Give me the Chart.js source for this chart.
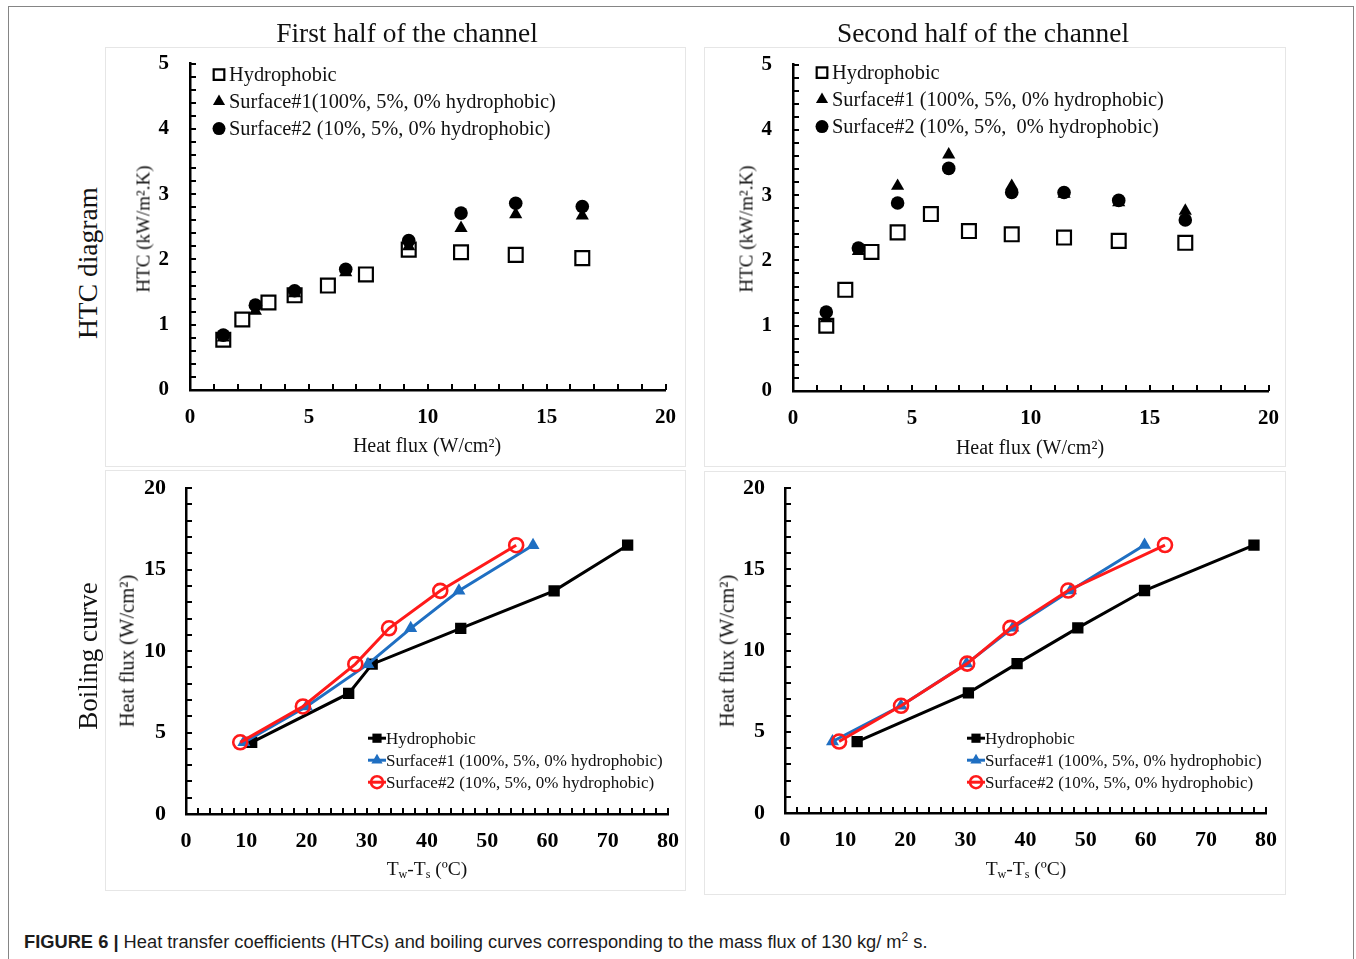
<!DOCTYPE html>
<html>
<head>
<meta charset="utf-8">
<script src="https://cdn.jsdelivr.net/npm/chart.js"></script>
<style>
  body{margin:0;background:#fff;width:1356px;height:959px;position:relative;overflow:hidden;font-family:"Liberation Serif","Times New Roman",serif;}
  .frame{position:absolute;left:8px;top:6px;width:1344px;height:1000px;border:1.5px solid #858585;border-bottom:none;}
  .panel{position:absolute;border:1.5px solid #e6e6e6;box-sizing:border-box;}
  canvas{position:absolute;}
  .lbl{position:absolute;white-space:nowrap;line-height:1;color:#111;}
  .ctr{transform:translate(-50%,-50%);}
  .rot{transform:translate(-50%,-50%) rotate(-90deg);}
  sub{font-size:0.62em;vertical-align:-0.25em;line-height:0;}
  .cap{position:absolute;left:24px;top:932px;font-family:"Liberation Sans",Arial,sans-serif;font-size:18.3px;color:#1c1c1c;white-space:nowrap;line-height:20px;}
  .cap sup{font-size:0.65em;vertical-align:0.55em;line-height:0;}
</style>
</head>
<body>
<div class="frame"></div>

<div class="panel" style="left:105px;top:47px;width:581px;height:420px;"></div>
<div class="panel" style="left:704px;top:47px;width:582px;height:420px;"></div>
<div class="panel" style="left:105px;top:470px;width:581px;height:421px;"></div>
<div class="panel" style="left:704px;top:471px;width:582px;height:424px;"></div>

<canvas id="c1" width="581" height="440"></canvas>
<canvas id="c2" width="582" height="440"></canvas>
<canvas id="c3" width="581" height="440"></canvas>
<canvas id="c4" width="582" height="440"></canvas>

<div class="lbl ctr" style="left:407px;top:34px;font-size:27.4px;">First half of the channel</div>
<div class="lbl ctr" style="left:983px;top:34px;font-size:27.4px;">Second half of the channel</div>

<div class="lbl rot" style="left:88px;top:263px;font-size:27.5px;">HTC diagram</div>
<div class="lbl rot" style="left:88px;top:656px;font-size:27px;">Boiling curve</div>

<div class="lbl ctr" style="left:427px;top:445px;font-size:20px;">Heat flux (W/cm²)</div>
<div class="lbl ctr" style="left:1030px;top:447px;font-size:20px;">Heat flux (W/cm²)</div>
<div class="lbl rot" style="left:143px;top:229px;font-size:19px;">HTC (kW/m².K)</div>
<div class="lbl rot" style="left:746px;top:229px;font-size:19px;">HTC (kW/m².K)</div>

<div class="lbl ctr" style="left:427px;top:869px;font-size:19.5px;">T<sub>w</sub>-T<sub>s</sub> (ºC)</div>
<div class="lbl ctr" style="left:1026px;top:869px;font-size:19.5px;">T<sub>w</sub>-T<sub>s</sub> (ºC)</div>
<div class="lbl rot" style="left:127px;top:651px;font-size:20.6px;">Heat flux (W/cm²)</div>
<div class="lbl rot" style="left:727px;top:651px;font-size:20.6px;">Heat flux (W/cm²)</div>

<div class="cap"><b>FIGURE 6 |</b> Heat transfer coefficients (HTCs) and boiling curves corresponding to the mass flux of 130 kg/ m<sup>2</sup> s.</div>

<script>
// ---------------- DATA ----------------
// HTC diagrams: heat flux (W/cm2) on x, HTC (kW/m2.K) on y
const htcFluxHydrophobic = [1.4, 2.2, 3.3, 4.4, 5.8, 7.4, 9.2, 11.4, 13.7, 16.5];
const htcFluxSurface     = [1.4, 2.75, 4.4, 6.55, 9.2, 11.4, 13.7, 16.5];

const firstHtcHydrophobic = [0.77, 1.08, 1.34, 1.45, 1.60, 1.77, 2.15, 2.11, 2.07, 2.02];
const firstHtcSurface1    = [0.80, 1.21, 1.48, 1.80, 2.20, 2.48, 2.69, 2.67];
const firstHtcSurface2    = [0.84, 1.30, 1.52, 1.85, 2.29, 2.71, 2.86, 2.81];

const secondHtcHydrophobic = [1.00, 1.55, 2.13, 2.43, 2.71, 2.45, 2.40, 2.35, 2.30, 2.27];
const secondHtcSurface1    = [1.11, 2.14, 3.14, 3.62, 3.14, 3.02, 2.89, 2.76];
const secondHtcSurface2    = [1.21, 2.19, 2.88, 3.41, 3.04, 3.04, 2.92, 2.62];

// Boiling curves: Tw-Ts (C) on x, heat flux (W/cm2) on y
const boilFluxHydrophobic = [4.4, 7.4, 9.2, 11.4, 13.7, 16.5];
const boilFluxSurface     = [4.4, 6.6, 9.2, 11.4, 13.7, 16.5];

const firstDtHydrophobic = [10.9, 27.0, 30.9, 45.6, 61.1, 73.3];
const firstDtSurface1    = [9.6, 20.0, 30.2, 37.3, 45.3, 57.6];
const firstDtSurface2    = [9.0, 19.4, 28.1, 33.7, 42.2, 54.8];

const secondDtHydrophobic = [12.0, 30.5, 38.6, 48.7, 59.8, 78.0];
const secondDtSurface1    = [7.9, 19.3, 30.2, 37.9, 47.5, 59.8];
const secondDtSurface2    = [9.0, 19.3, 30.3, 37.5, 47.1, 63.2];

// Tick labels
const htcXTicks  = [0, 5, 10, 15, 20];
const htcYTicks  = [0, 1, 2, 3, 4, 5];
const boilXTicks = [0, 10, 20, 30, 40, 50, 60, 70, 80];
const boilYTicks = [0, 5, 10, 15, 20];

// Legend labels
const firstHtcLabels  = ['Hydrophobic', 'Surface#1(100%, 5%, 0% hydrophobic)', 'Surface#2 (10%, 5%, 0% hydrophobic)'];
const secondHtcLabels = ['Hydrophobic', 'Surface#1 (100%, 5%, 0% hydrophobic)', 'Surface#2 (10%, 5%,  0% hydrophobic)'];
const boilLabels      = ['Hydrophobic', 'Surface#1 (100%, 5%, 0% hydrophobic)', 'Surface#2 (10%, 5%, 0% hydrophobic)'];

// ---------------- HELPERS ----------------
const zip = (xs, ys) => xs.map((x, i) => ({x: x, y: ys[i]}));
const SERIF = '"Liberation Serif", "Times New Roman", serif';
const BLUE = '#1f6fc2';
const RED = '#ff1a1a';

function marker(ctx, style, x, y, r, fill, stroke, lw) {
  ctx.beginPath();
  if (style === 'rect') {
    const s = r * Math.SQRT1_2;
    ctx.rect(x - s, y - s, 2 * s, 2 * s);
  } else if (style === 'triangle') {
    ctx.moveTo(x, y - r);
    ctx.lineTo(x + r * 0.866, y + r * 0.5);
    ctx.lineTo(x - r * 0.866, y + r * 0.5);
    ctx.closePath();
  } else {
    ctx.arc(x, y, r, 0, Math.PI * 2);
  }
  if (fill && fill !== 'transparent') { ctx.fillStyle = fill; ctx.fill(); }
  if (lw > 0) { ctx.strokeStyle = stroke; ctx.lineWidth = lw; ctx.stroke(); }
}

// inward tick marks on both axes
const inTicks = {
  id: 'inTicks',
  beforeDatasetsDraw(chart, args, o) {
    const {ctx, chartArea: a, scales: {x, y}} = chart;
    ctx.save();
    ctx.strokeStyle = '#000';
    ctx.lineWidth = 2;
    ctx.beginPath();
    for (let v = x.min; v <= x.max + 1e-9; v += o.xStep) {
      const px = Math.round(x.getPixelForValue(v));
      ctx.moveTo(px, a.bottom);
      ctx.lineTo(px, a.bottom - o.len);
    }
    for (let v = y.min; v <= y.max + 1e-9; v += o.yStep) {
      const py = Math.round(y.getPixelForValue(v));
      ctx.moveTo(a.left, py);
      ctx.lineTo(a.left + o.len, py);
    }
    ctx.stroke();
    ctx.restore();
  }
};

// legend drawn inside the plot area (offsets relative to the chart area corner)
const inLegend = {
  id: 'inLegend',
  afterDraw(chart, args, o) {
    const ctx = chart.ctx, a = chart.chartArea;
    ctx.save();
    ctx.font = o.font;
    ctx.textBaseline = 'middle';
    ctx.textAlign = 'left';
    chart.data.datasets.forEach((ds, i) => {
      const y = a.top + o.dy + i * o.rowH;
      if (o.line) {
        ctx.beginPath();
        ctx.strokeStyle = ds.borderColor;
        ctx.lineWidth = ds.borderWidth;
        ctx.moveTo(a.left + o.lx0, y);
        ctx.lineTo(a.left + o.lx1, y);
        ctx.stroke();
      }
      const mx = a.left + (o.line ? (o.lx0 + o.lx1) / 2 : o.mx);
      marker(ctx, ds.pointStyle, mx, y, o.r[i], ds.pointBackgroundColor, ds.pointBorderColor, ds.pointBorderWidth);
      ctx.fillStyle = '#111';
      ctx.fillText(ds.label, a.left + o.tx, y + 1);
    });
    ctx.restore();
  }
};

function makeChart(cv, c) {
  const tickFont = {family: SERIF, size: c.tickSize, weight: 'bold'};
  return new Chart(cv, {
    type: 'scatter',
    data: {datasets: c.datasets},
    options: {
      responsive: false,
      maintainAspectRatio: false,
      animation: false,
      devicePixelRatio: 1,
      layout: {padding: 0},
      plugins: {
        legend: {display: false},
        tooltip: {enabled: false},
        inTicks: c.ticks,
        inLegend: c.legend
      },
      scales: {
        x: {
          type: 'linear',
          min: c.xTicks[0], max: c.xTicks[c.xTicks.length - 1],
          afterBuildTicks: s => { s.ticks = c.xTicks.map(v => ({value: v})); },
          afterFit: s => { s.height = c.xH; },
          grid: {display: false, drawTicks: false},
          border: {display: true, color: '#000', width: 2.5},
          ticks: {font: tickFont, color: '#000', padding: c.xPad, maxRotation: 0, autoSkip: false}
        },
        y: {
          type: 'linear',
          min: c.yTicks[0], max: c.yTicks[c.yTicks.length - 1],
          afterBuildTicks: s => { s.ticks = c.yTicks.map(v => ({value: v})); },
          afterFit: s => { s.width = c.yW; },
          grid: {display: false, drawTicks: false},
          border: {display: true, color: '#000', width: 2.5},
          ticks: {font: tickFont, color: '#000', padding: c.yPad, autoSkip: false}
        }
      }
    },
    plugins: [inTicks, inLegend]
  });
}

// build the chart, then size and place its canvas so the plot area lands on the target box
function build(id, c, box) {
  const cv = document.getElementById(id);
  let ch = makeChart(cv, c);
  const a = ch.chartArea;
  const l0 = a.left, t0 = a.top, rg = ch.width - a.right, bg = ch.height - a.bottom;
  ch.destroy();
  cv.width = Math.round(box.r - box.l + l0 + rg);
  cv.height = Math.round(box.b - box.t + t0 + bg);
  cv.style.left = (box.l - l0) + 'px';
  cv.style.top = (box.t - t0) + 'px';
  return makeChart(cv, c);
}

function htcSets(labels, hy, s1, s2) {
  return [
    {label: labels[0], data: zip(htcFluxHydrophobic, hy), showLine: false, order: 2,
     pointStyle: 'rect', pointRadius: 9.8, pointBackgroundColor: '#fff', pointBorderColor: '#000', pointBorderWidth: 2.2,
     borderColor: '#000', borderWidth: 0},
    {label: labels[1], data: zip(htcFluxSurface, s1), showLine: false, order: 1,
     pointStyle: 'triangle', pointRadius: 7.6, pointBackgroundColor: '#000', pointBorderColor: '#000', pointBorderWidth: 0,
     borderColor: '#000', borderWidth: 0},
    {label: labels[2], data: zip(htcFluxSurface, s2), showLine: false, order: 0,
     pointStyle: 'circle', pointRadius: 6.8, pointBackgroundColor: '#000', pointBorderColor: '#000', pointBorderWidth: 0,
     borderColor: '#000', borderWidth: 0}
  ];
}

function boilSets(labels, hy, s1, s2) {
  return [
    {label: labels[0], data: zip(hy, boilFluxHydrophobic), showLine: true, order: 2,
     borderColor: '#000', borderWidth: 3,
     pointStyle: 'rect', pointRadius: 8, pointBackgroundColor: '#000', pointBorderColor: '#000', pointBorderWidth: 0},
    {label: labels[1], data: zip(s1, boilFluxSurface), showLine: true, order: 1,
     borderColor: BLUE, borderWidth: 3,
     pointStyle: 'triangle', pointRadius: 7.5, pointBackgroundColor: BLUE, pointBorderColor: BLUE, pointBorderWidth: 0},
    {label: labels[2], data: zip(s2, boilFluxSurface), showLine: true, order: 0,
     borderColor: RED, borderWidth: 3,
     pointStyle: 'circle', pointRadius: 7, pointBackgroundColor: 'transparent', pointBorderColor: RED, pointBorderWidth: 2.6}
  ];
}

build('c1', {
  datasets: htcSets(firstHtcLabels, firstHtcHydrophobic, firstHtcSurface1, firstHtcSurface2),
  xTicks: htcXTicks, yTicks: htcYTicks, tickSize: 21,
  yW: 85, xH: 77, xPad: 15, yPad: 21,
  ticks: {xStep: 1, yStep: 0.2, len: 6},
  legend: {font: '20.4px ' + SERIF, mx: 29, tx: 39, dy: 11, rowH: 27, r: [7.5, 7, 6.5], line: false}
}, {l: 190, r: 665, t: 64, b: 390});

build('c2', {
  datasets: htcSets(secondHtcLabels, secondHtcHydrophobic, secondHtcSurface1, secondHtcSurface2),
  xTicks: htcXTicks, yTicks: htcYTicks, tickSize: 21,
  yW: 89, xH: 76, xPad: 15, yPad: 21,
  ticks: {xStep: 1, yStep: 0.2, len: 6},
  legend: {font: '20.4px ' + SERIF, mx: 29, tx: 39, dy: 8, rowH: 27, r: [7.5, 7, 6.5], line: false}
}, {l: 793, r: 1268, t: 65, b: 391});

build('c3', {
  datasets: boilSets(boilLabels, firstDtHydrophobic, firstDtSurface1, firstDtSurface2),
  xTicks: boilXTicks, yTicks: boilYTicks, tickSize: 22,
  yW: 81, xH: 78, xPad: 14, yPad: 20,
  ticks: {xStep: 2, yStep: 1, len: 6},
  legend: {font: '17px ' + SERIF, lx0: 182, lx1: 200, tx: 200, dy: 250, rowH: 22, r: [6.5, 6.5, 6], line: true}
}, {l: 186, r: 668, t: 488, b: 814});

build('c4', {
  datasets: boilSets(boilLabels, secondDtHydrophobic, secondDtSurface1, secondDtSurface2),
  xTicks: boilXTicks, yTicks: boilYTicks, tickSize: 22,
  yW: 81, xH: 78, xPad: 14, yPad: 20,
  ticks: {xStep: 2, yStep: 1, len: 6},
  legend: {font: '17px ' + SERIF, lx0: 182, lx1: 200, tx: 200, dy: 250, rowH: 22, r: [6.5, 6.5, 6], line: true}
}, {l: 785, r: 1266, t: 488, b: 813});
</script>
</body>
</html>
